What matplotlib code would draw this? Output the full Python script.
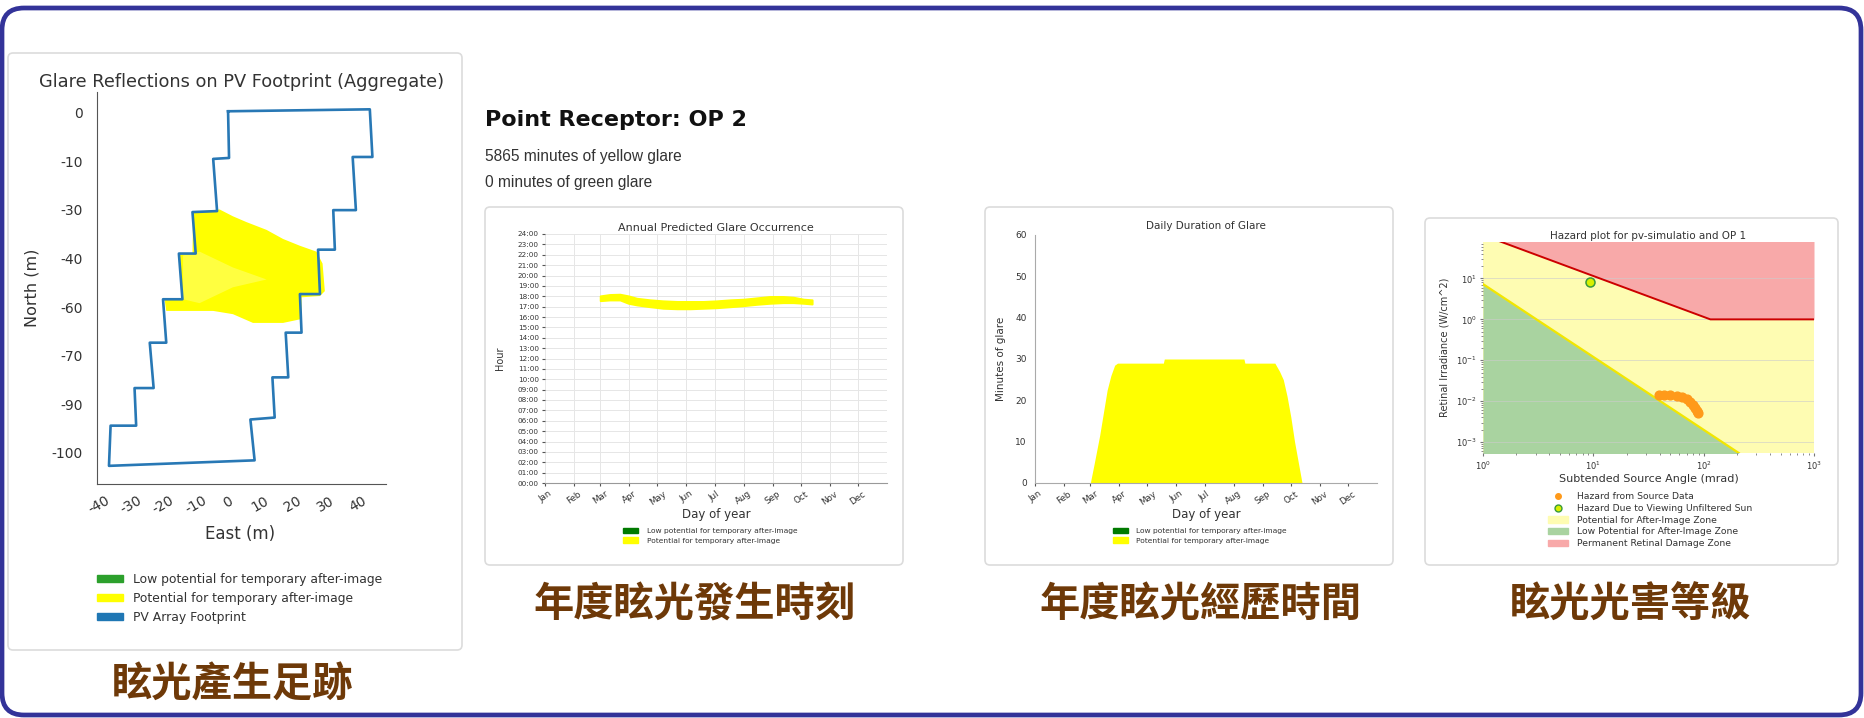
import matplotlib
matplotlib.use('Agg')
import matplotlib.pyplot as plt
from matplotlib.patches import FancyBboxPatch, Patch
from matplotlib.lines import Line2D

W, H = 1865, 718

# footprint panel (metres)
fp_x = [0, 43.8, 44.6, 38.5, 39.5, 32.5, 33.0, 27.8, 28.4, 22.2, 22.7, 17.8, 18.6, 13.7, 14.4, 6.9, 8.2,
        -36.8, -36.3, -28.4, -28.9, -23.0, -24.2, -19.1, -20.1, -14.1, -15.2, -10.0, -11.0, -3.4, -4.6, 0.3, 0]
fp_y = [0.4, 1.0, -13.7, -13.7, -30.1, -30.1, -42.3, -42.3, -56.0, -56.0, -67.9, -67.9, -81.7, -81.7, -94.1, -94.7, -107.3,
        -109.0, -96.6, -96.6, -85.0, -85.0, -71.0, -71.0, -57.6, -57.6, -43.5, -43.5, -30.7, -30.4, -14.3, -14.0, 0.4]
glare_x = [-10.8, -2.6, 1.5, 5.7, 11.9, 17.0, 22.2, 27.3, 29.2, 29.9, 28.4, 22.7, 22.7, 17.0, 7.7, 1.5, -4.6,
           -19.1, -19.6, -14.4, -14.9, -11.0]
glare_y = [-30.7, -29.9, -32.0, -33.8, -36.2, -39.0, -41.1, -42.9, -46.6, -55.1, -56.6, -57.0, -63.7, -64.9, -64.9,
           -62.2, -61.2, -61.2, -57.8, -57.6, -43.9, -43.5]
pale_x = [-13.9, -8.8, 1.5, 11.9, 1.5, -8.8, -13.9]
pale_y = [-44.1, -42.9, -47.8, -51.5, -53.9, -58.8, -57.6]
east_ticks = [-40, -30, -20, -10, 0, 10, 20, 30, 40]
north_ticks = [0, -15, -30, -45, -60, -75, -90, -105]
north_labels = ['0', '-10', '-30', '-40', '-60', '-70', '-90', '-100']

# annual occurrence (day of year, hour)
band_days = [60, 70, 81, 90, 99, 113, 127, 142, 156, 170, 184, 199, 213, 227, 241, 255, 266, 277, 286]
band_hi = [18.03, 18.16, 18.19, 18.03, 17.8, 17.65, 17.55, 17.49, 17.49, 17.49, 17.55, 17.65, 17.71, 17.84,
           17.97, 17.97, 17.9, 17.71, 17.65]
band_lo = [17.58, 17.65, 17.65, 17.33, 17.17, 17.0, 16.85, 16.8, 16.8, 16.85, 16.9, 17.0, 17.1, 17.23,
           17.33, 17.39, 17.39, 17.33, 17.26]
month_days = [1, 32, 60, 91, 121, 152, 182, 213, 244, 274, 305, 335]
months = ['Jan', 'Feb', 'Mar', 'Apr', 'May', 'Jun', 'Jul', 'Aug', 'Sep', 'Oct', 'Nov', 'Dec']

# daily duration
dur_days = [60, 64, 70, 74, 78, 82, 86, 89, 138, 139, 224, 225, 257, 262, 266, 270, 274, 278, 282, 286]
dur_min = [0, 4.5, 11.5, 17, 22.5, 26, 28.5, 29, 29, 30, 30, 29, 29, 27, 25, 21, 16, 10, 5, 0]

# hazard plot
hazard_x = [39, 44, 50, 57, 64, 70, 75, 80, 84, 87, 89]
hazard_y = [0.0145, 0.0142, 0.0138, 0.0132, 0.0125, 0.0115, 0.0098, 0.0082, 0.0068, 0.0058, 0.0050]
sun_x = [9.3]
sun_y = [8.0]
damage_x = [1, 115, 1000]
damage_y = [115, 1, 1]
after_x = [1, 208]
after_y = [7.3, 5.4e-4]

captions = ['眩光產生足跡', '年度眩光發生時刻', '年度眩光經歷時間', '眩光光害等級']
caption_pos = [(233, 685), (695, 605), (1201, 604), (1631, 605)]

YEL = '#ffff00'
GRN = '#2ca02c'
BROWN = '#6e3908'

fig = plt.figure(figsize=(W / 100, H / 100), dpi=100)


def px_axes(x0, y0, x1, y1):
    return fig.add_axes([x0 / W, 1 - y1 / H, (x1 - x0) / W, (y1 - y0) / H])


def fx(x):
    return x / W


def fy(y):
    return 1 - y / H


# background: frame and card boxes
bg = fig.add_axes([0, 0, 1, 1])
bg.set_xlim(0, W)
bg.set_ylim(H, 0)
bg.axis('off')
bg.add_patch(FancyBboxPatch((2, 8), 1859, 707, boxstyle='round,pad=0,rounding_size=22',
                            fill=False, ec='#333399', lw=3.4))
for (x0, y0, x1, y1) in [(8, 53, 462, 650), (485, 207, 903, 565), (985, 207, 1393, 565), (1425, 218, 1838, 565)]:
    bg.add_patch(FancyBboxPatch((x0, y0), x1 - x0, y1 - y0, boxstyle='round,pad=0,rounding_size=5',
                                fc='white', ec='#dcdcdc', lw=1.2))

# ---- panel 1: footprint
ax1 = px_axes(97, 91.5, 386, 484)
ax1.fill(glare_x, glare_y, color=YEL, lw=0)
ax1.fill(pale_x, pale_y, color='#ffff90', lw=0, alpha=0.45)
ax1.plot(fp_x, fp_y, color='#2878b5', lw=1.9)
ax1.set_xlim(-40.5, 48.8)
ax1.set_ylim(-114.6, 6.5)
ax1.set_xticks(east_ticks)
ax1.set_xticklabels([str(v) for v in east_ticks], rotation=30)
ax1.set_yticks(north_ticks)
ax1.set_yticklabels(north_labels)
ax1.tick_params(length=0, labelsize=10, colors='#333333')
ax1.tick_params(axis='x', pad=7)
ax1.tick_params(axis='y', pad=10)
for s in ['top', 'right']:
    ax1.spines[s].set_visible(False)
for s in ['left', 'bottom']:
    ax1.spines[s].set_color('#555555')
ax1.set_title('Glare Reflections on PV Footprint (Aggregate)', fontsize=12.8, pad=3, color='#333333')
ax1.set_xlabel('East (m)', fontsize=12, color='#333333')
ax1.xaxis.set_label_coords(0.495, -0.105)
ax1.set_ylabel('North (m)', fontsize=11.5, color='#333333')
ax1.yaxis.set_label_coords(-0.2, 0.5)
ax1.legend(handles=[Patch(color=GRN, label='Low potential for temporary after-image'),
                    Patch(color=YEL, label='Potential for temporary after-image'),
                    Patch(color='#1f77b4', label='PV Array Footprint')],
           loc='upper left', bbox_to_anchor=(fx(97), fy(573)), bbox_transform=fig.transFigure,
           frameon=False, fontsize=8.9, handlelength=2.1, handleheight=0.55, handletextpad=0.85,
           labelspacing=0.48, borderpad=0, borderaxespad=0, labelcolor='#333333')

# ---- panel 2 header
fig.text(fx(485), fy(120), 'Point Receptor: OP 2', fontsize=16, fontweight='bold', va='center', color='#111111')
fig.text(fx(485), fy(157), '5865 minutes of yellow glare', fontsize=11.2, family='Liberation Sans',
         va='center', color='#333333')
fig.text(fx(485), fy(182), '0 minutes of green glare', fontsize=11.2, family='Liberation Sans',
         va='center', color='#333333')

small_leg = [Patch(color='#007a00', label='Low potential for temporary after-image'),
             Patch(color=YEL, label='Potential for temporary after-image')]

# ---- panel 2: annual occurrence
ax2 = px_axes(545, 234, 887, 483)
ax2.fill_between(band_days, band_lo, band_hi, color=YEL, lw=1.5, edgecolor=YEL)
ax2.set_xlim(1, 366)
ax2.set_ylim(0, 24)
ax2.set_yticks(range(25))
ax2.set_yticklabels(['%02d:00' % h for h in range(25)])
ax2.set_xticks(month_days)
ax2.set_xticklabels(months, rotation=35)
ax2.grid(True, color='#e6e6e6', lw=0.7)
ax2.set_axisbelow(True)
for s in ['top', 'right', 'left']:
    ax2.spines[s].set_visible(False)
ax2.spines['bottom'].set_color('#999999')
ax2.tick_params(axis='y', labelsize=5.2, length=2.5, color='#555555', labelcolor='#333333', pad=2)
ax2.tick_params(axis='x', labelsize=6.3, length=2.5, color='#555555', labelcolor='#333333', pad=2)
ax2.set_title('Annual Predicted Glare Occurrence', fontsize=8, pad=2, color='#333333')
ax2.set_xlabel('Day of year', fontsize=8.5, labelpad=1, color='#333333')
ax2.set_ylabel('Hour', fontsize=7, color='#333333')
ax2.yaxis.set_label_coords(-0.117, 0.5)
ax2.legend(handles=small_leg, loc='upper left', bbox_to_anchor=(fx(623), fy(527.5)),
           bbox_transform=fig.transFigure, frameon=False, fontsize=5.4, handlelength=2.0,
           handleheight=0.8, handletextpad=1.2, labelspacing=0.43, borderpad=0, borderaxespad=0,
           labelcolor='#333333')

# ---- panel 3: daily duration
ax3 = px_axes(1035, 235, 1377, 483)
ax3.fill_between(dur_days, 0, dur_min, color=YEL, lw=0)
ax3.set_xlim(1, 366)
ax3.set_ylim(0, 60)
ax3.set_yticks(range(0, 61, 10))
ax3.set_xticks(month_days)
ax3.set_xticklabels(months, rotation=35)
for s in ['top', 'right']:
    ax3.spines[s].set_visible(False)
for s in ['left', 'bottom']:
    ax3.spines[s].set_color('#aaaaaa')
ax3.tick_params(axis='y', labelsize=6.5, length=0, labelcolor='#333333', pad=6)
ax3.tick_params(axis='x', labelsize=6.3, length=2.5, color='#555555', labelcolor='#333333', pad=2)
ax3.set_title('Daily Duration of Glare', fontsize=7.5, pad=4, color='#333333')
ax3.set_xlabel('Day of year', fontsize=8.5, labelpad=1, color='#333333')
ax3.set_ylabel('Minutes of glare', fontsize=7.5, color='#333333')
ax3.yaxis.set_label_coords(-0.085, 0.5)
ax3.legend(handles=small_leg, loc='upper left', bbox_to_anchor=(fx(1113), fy(527.5)),
           bbox_transform=fig.transFigure, frameon=False, fontsize=5.4, handlelength=2.0,
           handleheight=0.8, handletextpad=1.1, labelspacing=0.43, borderpad=0, borderaxespad=0,
           labelcolor='#333333')

# ---- panel 4: hazard plot
ax4 = px_axes(1483, 242, 1814, 453)
ax4.set_xscale('log')
ax4.set_yscale('log')
ax4.set_facecolor('#fefcb2')
ax4.fill_between(after_x, 1e-5, after_y, color='#a9d3a0', lw=0)
ax4.fill_between(damage_x, damage_y, 1e3, color='#f8a9a9', lw=0)
ax4.plot(after_x, after_y, color='#f2e600', lw=1.6)
ax4.plot(damage_x, damage_y, color='#cc0000', lw=1.4)
ax4.scatter(hazard_x, hazard_y, s=40, color='#ff9a1a', zorder=4)
ax4.scatter(sun_x, sun_y, s=42, facecolor='#d8f000', edgecolor='#3a9a3a', lw=1.1, zorder=4)
ax4.set_xlim(1, 1000)
ax4.set_ylim(5.4e-4, 78)
ax4.yaxis.grid(True, color='#cccccc', lw=0.6, alpha=0.7)
for s in ax4.spines.values():
    s.set_visible(False)
ax4.tick_params(which='both', labelsize=6, color='#777777', labelcolor='#333333')
ax4.tick_params(which='major', length=2.5, pad=2)
ax4.tick_params(which='minor', length=1.5)
ax4.set_title('Hazard plot for pv-simulatio and OP 1', fontsize=7.5, pad=2, color='#333333')
ax4.set_xlabel('Subtended Source Angle (mrad)', fontsize=8, labelpad=2, color='#333333')
ax4.set_ylabel('Retinal Irradiance (W/cm^2)', fontsize=7, color='#333333')
ax4.yaxis.set_label_coords(-0.1, 0.5)
ax4.legend(handles=[Line2D([], [], ls='none', marker='o', ms=4, color='#ff9a1a', label='Hazard from Source Data'),
                    Line2D([], [], ls='none', marker='o', ms=5, mfc='#d8f000', mec='#3a9a3a',
                           label='Hazard Due to Viewing Unfiltered Sun'),
                    Patch(color='#fefcb2', label='Potential for After-Image Zone'),
                    Patch(color='#a9d3a0', label='Low Potential for After-Image Zone'),
                    Patch(color='#f8a9a9', label='Permanent Retinal Damage Zone')],
           loc='upper left', bbox_to_anchor=(fx(1548), fy(492)), bbox_transform=fig.transFigure,
           frameon=False, fontsize=6.7, handlelength=2.1, handleheight=0.7, handletextpad=1.0,
           labelspacing=0.3, borderpad=0, borderaxespad=0, labelcolor='#333333')

# ---- captions
for text, (cx, cy) in zip(captions, caption_pos):
    fig.text(fx(cx), fy(cy), text, fontsize=29, fontweight='bold', color=BROWN,
             family=['Noto Sans CJK TC', 'DejaVu Sans'], ha='center', va='center')

fig.savefig('out.png', dpi=100, facecolor='white')
